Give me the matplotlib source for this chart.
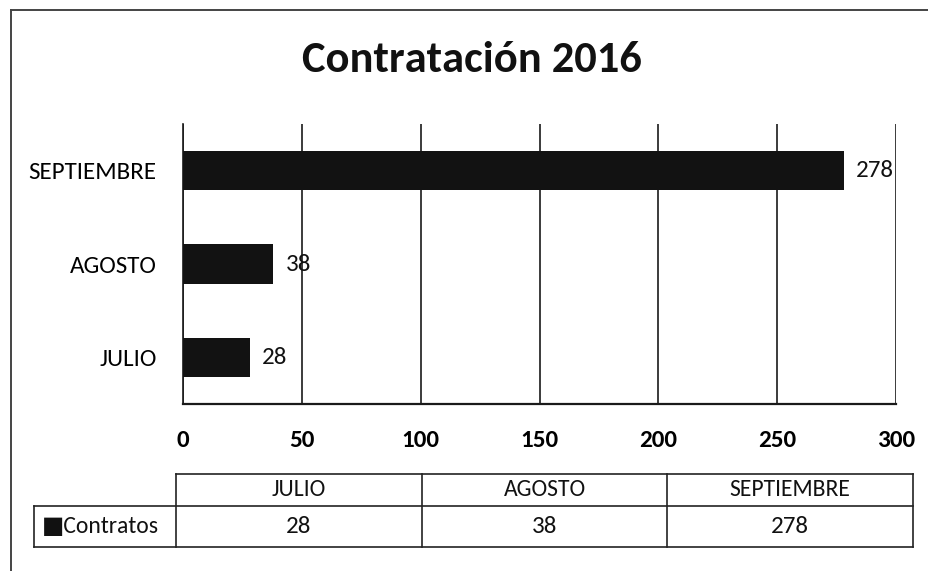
import matplotlib
matplotlib.use('Agg')
import matplotlib.pyplot as plt
from matplotlib import font_manager
from matplotlib.lines import Line2D

# pick a narrow Calibri-like face if one is around, else Lato
available = {f.name for f in font_manager.fontManager.ttflist}
family = 'Lato'
for cand in ['Carlito', 'Liberation Sans Narrow', 'DejaVu Sans Condensed', 'Roboto Condensed', 'Open Sans Condensed']:
    if cand in available:
        family = cand
        break
plt.rcParams['font.family'] = [family, 'DejaVu Sans']

# Data
months = ['JULIO', 'AGOSTO', 'SEPTIEMBRE']
contratos = [28, 38, 278]
series_name = 'Contratos'
x_ticks = [0, 50, 100, 150, 200, 250, 300]

W, H = 929, 571
fig = plt.figure(figsize=(W / 100, H / 100), dpi=100)
fig.patch.set_facecolor('white')


def fx(px):
    return px / W


def fy(py):
    return 1 - py / H


# axes placed in pixel terms
left, right, top, bottom = 183, 896, 124, 404
ax = fig.add_axes([fx(left), fy(bottom), (right - left) / W, (bottom - top) / H])

ypos = range(len(months))
ax.barh(ypos, contratos, height=0.42, color='#121212', zorder=3)
for y, v in zip(ypos, contratos):
    ax.annotate(str(v), (v, y), xytext=(9, 0), textcoords='offset points',
                va='center', ha='left', fontsize=18, color='#111111', zorder=4)

ax.set_xlim(0, 300)
ax.set_ylim(-0.5, len(months) - 0.5)
ax.set_yticks(list(ypos))
ax.set_yticklabels(months, fontsize=18)
ax.set_xticks(x_ticks)
ax.set_xticklabels([str(t) for t in x_ticks], fontsize=18, fontweight='bold')
ax.tick_params(axis='y', length=0, pad=19)
ax.tick_params(axis='x', length=0, pad=19)
ax.grid(axis='x', color='#1a1a1a', linewidth=1.2, zorder=1)
ax.spines['top'].set_visible(False)
ax.spines['right'].set_visible(False)
for s in ['left', 'bottom']:
    ax.spines[s].set_color('#1a1a1a')
ax.spines['left'].set_linewidth(1.2)
ax.spines['bottom'].set_linewidth(1.6)

fig.text(fx(472), fy(60), 'Contratación 2016', ha='center', va='center',
         fontsize=32, fontweight='bold', color='#111111')

# data table under the chart
col_edges = [176, 422, 667, 913]
lab_left = 34
t_top, t_mid, t_bot = 474, 506, 547
lc = '#222222'


def hline(x0, x1, y):
    fig.add_artist(Line2D([fx(x0), fx(x1)], [fy(y), fy(y)], color=lc, linewidth=1.2))


def vline(x, y0, y1):
    fig.add_artist(Line2D([fx(x), fx(x)], [fy(y0), fy(y1)], color=lc, linewidth=1.2))


hline(col_edges[0], col_edges[-1], t_top)
hline(lab_left, col_edges[-1], t_mid)
hline(lab_left, col_edges[-1], t_bot)
for x in col_edges:
    vline(x, t_top, t_bot)
vline(lab_left, t_mid, t_bot)

for i, (m, v) in enumerate(zip(months, contratos)):
    cx = (col_edges[i] + col_edges[i + 1]) / 2
    fig.text(fx(cx), fy((t_top + t_mid) / 2), m, ha='center', va='center',
             fontsize=17, color='#111111')
    fig.text(fx(cx), fy((t_mid + t_bot) / 2), str(v), ha='center', va='center',
             fontsize=18, color='#111111')
fig.text(fx(lab_left + 8), fy((t_mid + t_bot) / 2), '■' + series_name,
         ha='left', va='center', fontsize=17, color='#111111')

# scanned page frame
fig.add_artist(Line2D([fx(11), fx(11)], [0, fy(10)], color='#444444', linewidth=1.4))
fig.add_artist(Line2D([fx(11), 1], [fy(10), fy(10)], color='#444444', linewidth=1.4))

fig.savefig('out.png', dpi=100, facecolor='white')
